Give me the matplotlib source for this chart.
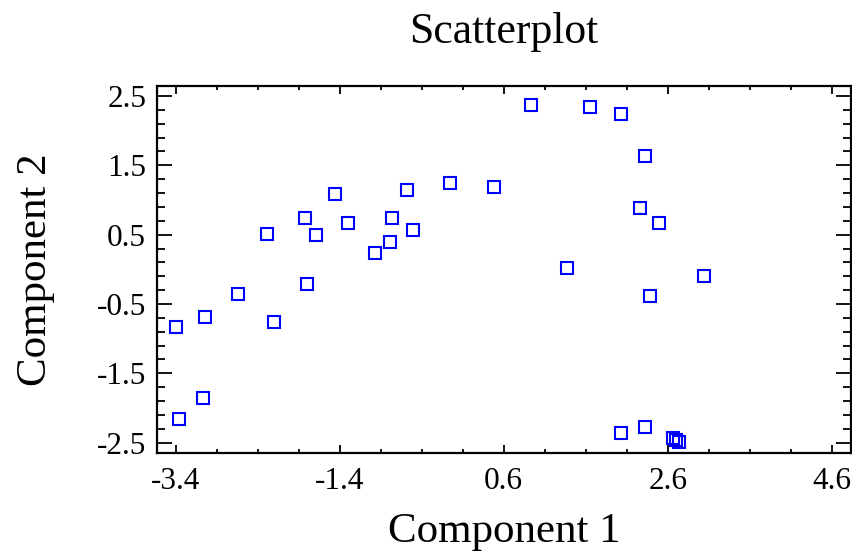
import matplotlib
matplotlib.use("Agg")
import matplotlib.pyplot as plt
from matplotlib.ticker import MultipleLocator, FixedLocator

comp1 = [-2.281, -1.818, -1.693, -1.462, -1.295, -0.975, -0.789, -0.765, -0.501, -0.578,
         -0.055, 0.476, 0.938, 1.652, 2.033, 2.325, 2.264, 2.492, 1.376, 3.043,
         -1.799, -2.642, -3.040, -3.400, -2.200, -3.064, -3.360, 2.386, 2.033, 2.325,
         2.666, 2.705, 2.741]
comp2 = [0.513, 0.744, 0.490, 1.090, 0.667, 0.239, 0.393, 0.744, 0.566, 1.139,
         1.240, 1.191, 2.366, 2.337, 2.240, 1.639, 0.888, 0.667, 0.018, -0.102,
         -0.208, -0.357, -0.685, -0.829, -0.761, -1.854, -2.157, -0.382, -2.353, -2.276,
         -2.439, -2.462, -2.486]
xticks = [-3.4, -1.4, 0.6, 2.6, 4.6]
yticks = [-2.5, -1.5, -0.5, 0.5, 1.5, 2.5]

plt.rcParams['font.family'] = ['Liberation Serif', 'DejaVu Serif']

fig = plt.figure(figsize=(8.53, 5.55), dpi=100)
ax = fig.add_axes([157.3/853, 102.3/555, (851-157.3)/853, (452.7-86)/555])

ax.plot(comp1, comp2, linestyle='none', marker='s', markersize=8.2,
        markerfacecolor='none', markeredgecolor='#0000ff', markeredgewidth=1.5)

ax.set_xlim(-3.624, 4.835)
ax.set_ylim(-2.644, 2.644)
ax.xaxis.set_major_locator(FixedLocator(xticks))
ax.yaxis.set_major_locator(FixedLocator(yticks))
ax.xaxis.set_minor_locator(MultipleLocator(0.5, offset=0.1))
ax.yaxis.set_minor_locator(MultipleLocator(0.2, offset=0.1))
ax.set_xticklabels([f"{v:.1f}" for v in xticks])
ax.set_yticklabels([f"{v:.1f}" for v in yticks])

ax.tick_params(axis='both', which='both', direction='in', top=True, right=True,
               width=1.3, color='black', labelsize=22.5)
ax.tick_params(axis='x', which='major', length=5.5, pad=10)
ax.tick_params(axis='x', which='minor', length=3)
ax.tick_params(axis='y', which='major', length=10.5, pad=8)
ax.tick_params(axis='y', which='minor', length=5.5)
for s in ax.spines.values():
    s.set_linewidth(1.6)

ax.set_title('Scatterplot', fontsize=31.5, pad=31)
ax.set_xlabel('Component 1', fontsize=31, labelpad=12)
ax.set_ylabel('Component 2', fontsize=31)
ax.yaxis.set_label_coords(-0.148, 0.5)

fig.savefig('out.png', dpi=100)
